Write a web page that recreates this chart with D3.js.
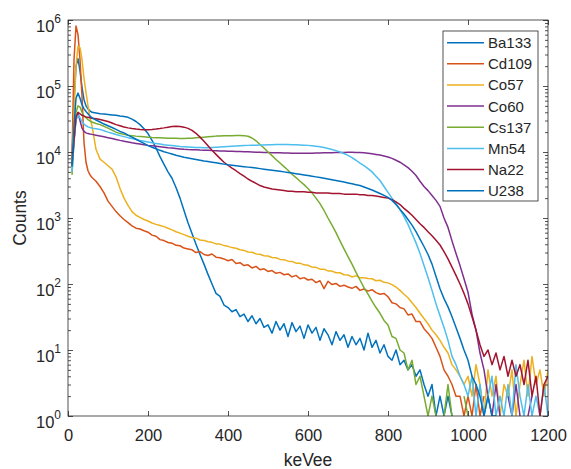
<!DOCTYPE html>
<html>
<head>
<meta charset="utf-8">
<script src="https://cdn.jsdelivr.net/npm/d3@7"></script>
<style>
  body { margin: 0; background: #fff; }
  text { font-family: "Liberation Sans", Arial, Helvetica, sans-serif; fill: #262626; }
</style>
</head>
<body>
<svg id="chart" width="571" height="469"></svg>
<script>
// Bin centres in keVee: 5 keV bins through the low-energy peak, 10 keV bins above
const energy = [10, 15, 20, 25, 30, 35, 40, 45, 50, 55, 60].concat(d3.range(70, 1201, 10));

// Counts per bin for each source
const ba133 = [8000,60000,200000,260000,170000,95000,62000,50000,45000,42000,40000,
  39000,38000,37500,
  37000,36500,36000,35000,34500,33500,31500,29000,26000,22500,
  19000,15000,11500,8500,6500,5000,4000,2900,2000,1300,
  850,580,400,280,200,140,100,72,65,48,
  44,38,41,32,35,27,33,25,30,22,
  24,18,27,20,25,16,26,19,23,15,
  24,18,22,14,21,17,12,19,14,17,
  11,16,12,15,10,18,11,14,9,12,
  8,7,10,6,7,5,6,4,5,3,
  2,3,1,2,1,2,1,0,0,0,
  0,0,0,0,0,0,0,0,0,0,
  0,0,0,0,0,0,0,0,0,0,
  0];
const cd109 = [8000,250000,810000,600000,250000,70000,14000,7000,5200,4500,4100,
  3600,3000,2400,
  1800,1500,1250,1080,950,850,760,700,680,640,
  610,550,530,470,455,425,415,385,380,350,
  340,330,300,310,280,270,285,255,250,240,
  225,235,205,210,190,195,175,185,165,170,
  155,160,145,150,138,142,128,135,120,125,
  115,118,105,112,85,110,98,102,92,96,
  90,86,92,80,84,78,82,74,70,72,
  64,52,50,44,42,34,35,27,27,21,
  18,15,11,8,5,4,3,2,2,1,
  2,1,3,1,2,0,1,0,0,0,
  0,0,0,0,0,0,0,0,0,0,
  0];
const co57 = [5000,40000,200000,400000,380000,250000,130000,80000,50000,33000,25000,
  11000,7800,7000,
  6200,5500,4200,2800,2000,1550,1250,1100,1020,950,
  900,840,800,770,740,700,660,620,590,560,
  530,505,495,465,458,436,428,405,402,382,
  372,356,348,330,323,306,302,286,283,268,
  265,252,250,236,234,222,220,207,207,195,
  192,180,179,168,168,158,157,148,148,138,
  137,128,134,124,124,121,120,112,114,106,
  104,98,90,80,70,62,52,44,36,30,
  25,20,17,14,11,9,6,5,4,3,
  4,2,6,3,1,5,2,4,1,3,
  2,5,1,3,7,2,8,3,5,2,
  5];
const co60 = [6000,15000,32000,39000,30000,23000,20500,19500,19000,18700,18500,
  18000,17500,17000,
  16500,16000,15500,15000,14600,14200,13800,13500,13200,12900,
  12600,12400,12200,12000,11800,11600,11450,11300,11150,11000,
  10900,10850,10800,10700,10650,10600,10500,10450,10400,10350,
  10300,10250,10200,10150,10100,10050,10000,9950,9900,9850,
  9800,9750,9700,9700,9650,9650,9600,9600,9600,9600,
  9600,9600,9650,9650,9700,9700,9750,9800,9800,9850,
  9900,9900,9850,9800,9750,9600,9400,9200,9000,8700,
  8400,8000,7500,7000,6400,5800,5100,4400,3600,3000,
  2600,2200,1850,1500,1000,720,450,290,190,120,
  75,35,20,9,5,2,1,3,1,0,
  2,1,3,1,0,1,2,0,1,0,
  0];
const cs137 = [4500,15000,40000,50000,48000,40000,35000,33000,31000,29500,28500,
  27000,26000,24500,
  23000,21500,20000,19000,18500,18000,17700,17400,17200,17000,
  16800,16600,16500,16400,16300,16200,16100,16100,16000,16000,
  16100,16200,16400,16600,16800,17000,17200,17400,17500,17600,
  17700,17700,17800,17800,17700,17300,16300,14800,13000,11500,
  10000,8800,7700,6800,6000,5300,4600,4100,3600,3200,
  2800,2400,2000,1650,1300,1000,780,600,450,340,
  260,200,150,115,88,70,55,44,36,28,
  24,16,15,10,9,5,7,3,4,2,
  1,2,1,0,1,3,1,0,0,2,
  1,0,0,0,0,0,0,0,0,0,
  0,0,0,0,0,0,0,0,0,0,
  0];
const mn54 = [5000,14000,30000,36000,33000,29000,26500,25000,24000,23500,23000,
  22500,22000,21000,
  20000,19200,18400,17700,17100,16500,16000,15500,15000,14600,
  14200,13800,13500,13200,12900,12700,12500,12300,12100,12000,
  11900,11800,11700,11650,11600,11600,11700,11800,11900,12000,
  12100,12200,12300,12400,12500,12600,12700,12700,12800,12800,
  12900,12900,13000,13000,13000,13000,12900,12900,12800,12700,
  12600,12400,12200,12000,11700,11300,10900,10500,10000,9500,
  8900,8200,7500,6800,6200,5600,5000,4300,3700,3000,
  2450,2000,1650,1350,1050,800,580,420,290,190,
  125,80,50,33,22,14,8,6,4,3,
  2,4,1,3,1,2,4,1,2,1,
  3,1,6,2,1,3,1,2,1,3,
  1];
const na22 = [6500,15000,34000,40000,38000,36000,35000,34000,33500,33000,32500,
  32000,31000,30000,
  29000,27500,26000,25000,24000,23200,22700,22300,22000,21800,
  21800,22000,22300,22700,23200,23800,24300,24600,24400,23800,
  22800,21300,19200,16800,14500,12400,10600,9200,8000,7000,
  6300,5700,5200,4700,4300,3900,3600,3350,3100,2950,
  2850,2750,2700,2650,2600,2550,2550,2500,2500,2500,
  2450,2450,2400,2400,2400,2400,2350,2350,2350,2300,
  2300,2300,2300,2250,2250,2200,2200,2150,2100,2050,
  2000,1900,1750,1600,1400,1250,1100,950,820,720,
  620,540,460,390,310,240,180,135,100,72,
  50,32,20,12,8,10,6,9,5,8,
  4,7,4,6,3,7,2,4,1,3,
  4];
const u238 = [6000,25000,65000,78000,65000,52000,45000,41000,38000,35000,33000,
  30500,28500,26500,
  25000,23500,22000,20500,19500,18000,16800,15600,14500,13500,
  12500,11800,11200,10600,10100,9700,9300,8900,8600,8300,
  8100,7900,7700,7500,7300,7150,7000,6850,6700,6550,
  6400,6300,6200,6100,6000,5900,5800,5700,5600,5500,
  5400,5300,5200,5100,5000,4900,4800,4700,4600,4500,
  4400,4300,4200,4100,4000,3900,3800,3700,3600,3500,
  3400,3300,3200,3100,2950,2800,2650,2500,2350,2200,
  2050,1850,1600,1350,1150,950,780,620,480,370,
  280,200,130,85,60,45,32,22,15,10,
  7,4,3,2,1,2,1,1,0,0,
  0,0,0,0,0,0,0,0,0,0,
  0];

const sourceNames = ["Ba133", "Cd109", "Co57", "Co60", "Cs137", "Mn54", "Na22", "U238"];
const sourceCounts = [ba133, cd109, co57, co60, cs137, mn54, na22, u238];
const sourceColors = ["#0072BD", "#D95319", "#EDB120", "#7E2F8E", "#77AC30", "#4DBEEE", "#A2142F", "#0072BD"];
const xTicks = [0, 200, 400, 600, 800, 1000, 1200];
const yDecades = [0, 1, 2, 3, 4, 5, 6];

const svg = d3.select("#chart");
const plot = { left: 68, right: 548, top: 20, bottom: 416 };
const axisColor = "#262626";

const x = d3.scaleLinear().domain([0, 1200]).range([plot.left, plot.right]);
const y = d3.scaleLog().domain([1, 1e6]).range([plot.bottom, plot.top]);

svg.append("defs").append("clipPath").attr("id", "plot-clip")
  .append("rect")
  .attr("x", plot.left).attr("y", plot.top)
  .attr("width", plot.right - plot.left).attr("height", plot.bottom - plot.top);

// Spectra
const line = d3.line()
  .defined(d => d[1] > 0)
  .x(d => x(d[0]))
  .y(d => y(d[1]));

const lines = svg.append("g").attr("clip-path", "url(#plot-clip)");
sourceCounts.forEach((counts, i) => {
  lines.append("path")
    .datum(energy.map((e, j) => [e, counts[j]]))
    .attr("fill", "none")
    .attr("stroke", sourceColors[i])
    .attr("stroke-width", 1.5)
    .attr("stroke-linejoin", "round")
    .attr("d", line);
});

// Axes with inward ticks on all four sides
function styleAxis(g) {
  g.select(".domain").remove();
  g.selectAll(".tick line").attr("stroke", axisColor).attr("stroke-width", 0.8);
  g.selectAll("text").attr("fill", axisColor);
}

svg.append("g")
  .attr("transform", `translate(0,${plot.bottom})`)
  .call(d3.axisBottom(x).tickValues(xTicks).tickSize(-5).tickPadding(13).tickFormat(d3.format("d")))
  .call(styleAxis)
  .call(g => g.selectAll("text").style("font-size", "16.5px").style("font-family", '"Liberation Sans", Arial, sans-serif'));

svg.append("g")
  .attr("transform", `translate(0,${plot.top})`)
  .call(d3.axisTop(x).tickValues(xTicks).tickSize(-5).tickFormat(""))
  .call(styleAxis);

const majorY = yDecades.map(k => Math.pow(10, k));
const minorY = [];
yDecades.slice(0, -1).forEach(k => {
  for (let m = 2; m <= 9; m++) minorY.push(m * Math.pow(10, k));
});

[[d3.axisLeft, plot.left], [d3.axisRight, plot.right]].forEach(([make, xpos]) => {
  svg.append("g")
    .attr("transform", `translate(${xpos},0)`)
    .call(make(y).tickValues(majorY).tickSize(-5).tickFormat(""))
    .call(styleAxis);
  svg.append("g")
    .attr("transform", `translate(${xpos},0)`)
    .call(make(y).tickValues(minorY).tickSize(-3).tickFormat(""))
    .call(styleAxis);
});

// Power-of-ten labels
const yLabels = svg.append("g");
yDecades.forEach(k => {
  const t = yLabels.append("text")
    .attr("x", 61)
    .attr("y", y(Math.pow(10, k)) + 11.7)
    .attr("text-anchor", "end")
    .style("font-size", "16.5px");
  t.append("tspan").text("10");
  t.append("tspan").attr("dy", -8.7).style("font-size", "12px").text(String(k));
});

// Frame
svg.append("rect")
  .attr("x", plot.left).attr("y", plot.top)
  .attr("width", plot.right - plot.left).attr("height", plot.bottom - plot.top)
  .attr("fill", "none").attr("stroke", axisColor).attr("stroke-width", 0.8);

// Axis titles
svg.append("text")
  .attr("x", (plot.left + plot.right) / 2).attr("y", 466)
  .attr("text-anchor", "middle")
  .style("font-size", "17.5px")
  .text("keVee");

svg.append("text")
  .attr("transform", `translate(26,${(plot.top + plot.bottom) / 2}) rotate(-90)`)
  .attr("text-anchor", "middle")
  .style("font-size", "17.5px")
  .text("Counts");

// Legend
const legend = svg.append("g");
legend.append("rect")
  .attr("x", 443).attr("y", 31).attr("width", 95).attr("height", 170)
  .attr("fill", "#fff").attr("stroke", axisColor).attr("stroke-width", 0.8);
sourceNames.forEach((name, i) => {
  const cy = 42.7 + i * 21.14;
  legend.append("line")
    .attr("x1", 447).attr("x2", 484).attr("y1", cy).attr("y2", cy)
    .attr("stroke", sourceColors[i]).attr("stroke-width", 1.5);
  legend.append("text")
    .attr("x", 488).attr("y", cy + 5.5)
    .style("font-size", "15px")
    .text(name);
});
</script>
</body>
</html>
